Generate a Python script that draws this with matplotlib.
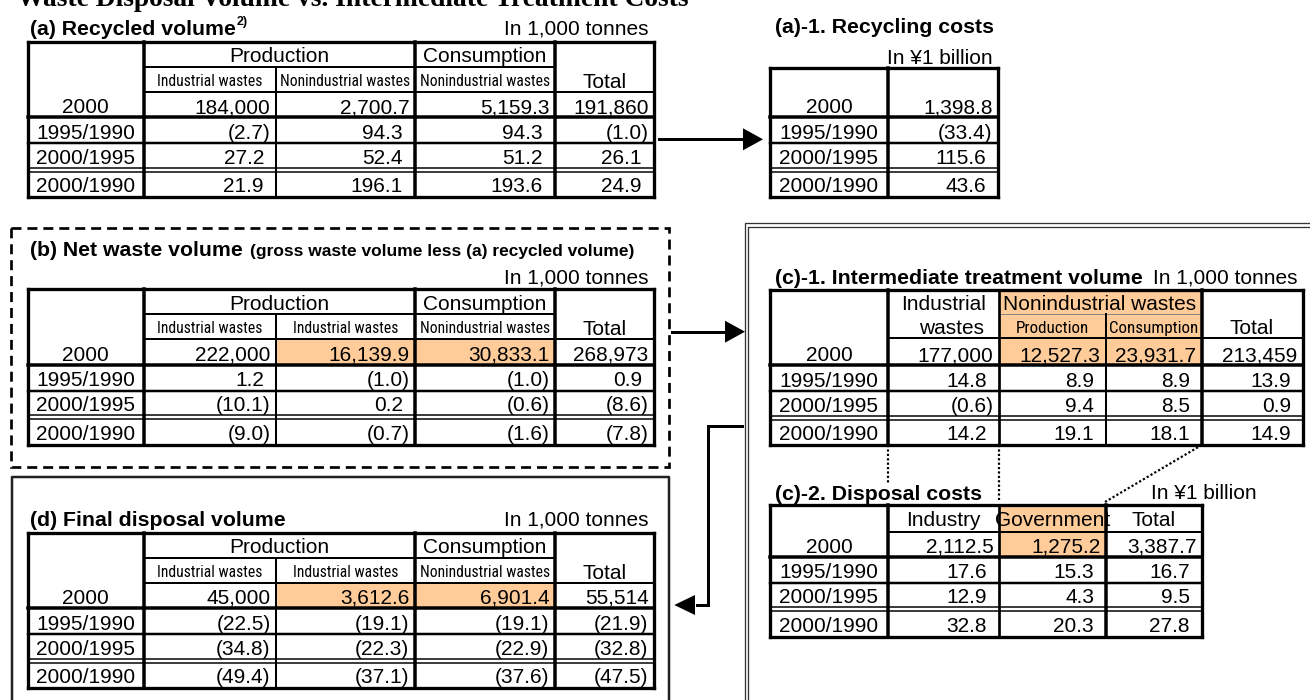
import matplotlib
matplotlib.use("Agg")
import matplotlib.pyplot as plt
from matplotlib.patches import Rectangle, Polygon
from matplotlib import font_manager
from matplotlib.font_manager import FontProperties

# ---------------- data ----------------
row_labels = ["2000", "1995/1990", "2000/1995", "2000/1990"]
groups = ["Production", "Consumption"]

recycled_subs = ["Industrial wastes", "Nonindustrial wastes", "Nonindustrial wastes"]
recycled_2000 = [184000, 2700.7, 5159.3, 191860]
recycled_ratios = [[-2.7, 94.3, 94.3, -1.0],
                   [27.2, 52.4, 51.2, 26.1],
                   [21.9, 196.1, 193.6, 24.9]]

recycling_cost_2000 = [1398.8]
recycling_cost_ratios = [[-33.4], [115.6], [43.6]]

net_subs = ["Industrial wastes", "Industrial wastes", "Nonindustrial wastes"]
net_2000 = [222000, 16139.9, 30833.1, 268973]
net_ratios = [[1.2, -1.0, -1.0, 0.9],
              [-10.1, 0.2, -0.6, -8.6],
              [-9.0, -0.7, -1.6, -7.8]]

treat_heads = ["Industrial", "wastes", "Nonindustrial wastes", "Production", "Consumption", "Total"]
treat_2000 = [177000, 12527.3, 23931.7, 213459]
treat_ratios = [[14.8, 8.9, 8.9, 13.9],
                [-0.6, 9.4, 8.5, 0.9],
                [14.2, 19.1, 18.1, 14.9]]

cost_heads = ["Industry", "Government", "Total"]
cost_2000 = [2112.5, 1275.2, 3387.7]
cost_ratios = [[17.6, 15.3, 16.7],
               [12.9, 4.3, 9.5],
               [32.8, 20.3, 27.8]]

final_subs = ["Industrial wastes", "Industrial wastes", "Nonindustrial wastes"]
final_2000 = [45000, 3612.6, 6901.4, 55514]
final_ratios = [[-22.5, -19.1, -19.1, -21.9],
                [-34.8, -22.3, -22.9, -32.8],
                [-49.4, -37.1, -37.6, -47.5]]

# ---------------- setup ----------------
fig = plt.figure(figsize=(13.1, 7), dpi=100)
ax = fig.add_axes([0, 0, 1, 1])
ax.set_xlim(0, 1310)
ax.set_ylim(700, 0)
ax.axis("off")
renderer = fig.canvas.get_renderer()

PT = 72 / 100  # points per pixel
SANS = "Liberation Sans"
TITLE = 15.3
ORANGE = "#FFCC99"
VOL_COLS = [27.5, 144, 276, 415, 555, 654]


def pick_narrow():
    # look for an installed narrow / condensed sans (like Arial Narrow in the original)
    order = ["Liberation Sans Narrow", "Arial Narrow", "Roboto Condensed", "Noto Sans",
             "Open Sans", "Roboto", "DejaVu Sans"]
    best, best_rank = None, 99
    for f in font_manager.fontManager.ttflist:
        st = str(f.stretch).lower()
        nm = f.name
        if f.style != "normal" or str(f.weight).lower() not in ("400", "normal", "regular", "book"):
            continue
        if "extra" in st or "ultra" in st or "Extra" in nm or "Ultra" in nm:
            continue
        if not ("Narrow" in nm or "Condensed" in nm or "condensed" in st):
            continue
        rank = next((i for i, o in enumerate(order) if nm.startswith(o)), len(order))
        if rank < best_rank:
            best, best_rank = f.fname, rank
    return best


narrow_file = pick_narrow()


def narrow_fp(size):
    if narrow_file:
        return FontProperties(fname=narrow_file, size=size)
    return FontProperties(family=SANS, size=size)


def fit_size(s, target_px, start=12):
    t = ax.text(0, 0, s, fontproperties=narrow_fp(start))
    w = t.get_window_extent(renderer).width
    t.remove()
    return start * target_px / w


SUB_SIZE = min(fit_size("Nonindustrial wastes", 130), 13)
C1_SUB_SIZE = min(fit_size("Production", 73), 14)


def fmt_level(v):
    return f"{v:,}" if isinstance(v, int) else f"{v:,.1f}"


def fmt_ratio(v):
    return f"({abs(v):.1f})" if v < 0 else f"{v:.1f}"


def line(x0, y0, x1, y1, w=2.0, color="black", **kw):
    ax.plot([x0, x1], [y0, y1], color=color, lw=w * PT, solid_capstyle="projecting", **kw)


def txt(x, y, s, size=15, ha="center", weight="normal", family=SANS, clip=None, narrow=False):
    base = y + 0.36 * size / PT  # put the middle of the caps on y
    if narrow:
        t = ax.text(x, base, s, ha=ha, va="baseline", fontproperties=narrow_fp(size))
    else:
        t = ax.text(x, base, s, ha=ha, va="baseline", fontsize=size,
                    fontweight=weight, family=family)
    if clip is not None:
        r = Rectangle((clip[0], clip[1]), clip[2] - clip[0], clip[3] - clip[1],
                      transform=ax.transData)
        t.set_clip_path(r)
    return t


def fill(x0, y0, x1, y1):
    ax.add_patch(Rectangle((x0, y0), x1 - x0, y1 - y0, facecolor=ORANGE,
                           edgecolor="none", zorder=0))


def frame(x0, y0, x1, y1, w=3.3):
    line(x0, y0, x1, y0, w)
    line(x0, y1, x1, y1, w)
    line(x0, y0, x0, y1, w)
    line(x1, y0, x1, y1, w)


def level_row(cols, yb, values):
    txt((cols[0] + cols[1]) / 2, yb - 11.5, row_labels[0])
    for j, v in enumerate(values):
        txt(cols[j + 2] - 5.5, yb - 11.5, fmt_level(v), ha="right")


def body(cols, yb, ratios, widths):
    L, R = cols[0], cols[-1]
    r1, d1, d2, bot = yb + 26, yb + 50.7, yb + 54.5, yb + 80
    line(L, yb, R, yb, 3.5)
    line(L, r1, R, r1, 2.5)
    line(L, d1, R, d1, 1.5)
    line(L, d2, R, d2, 1.5)
    for x, w in zip(cols[1:-1], widths):
        line(x, yb, x, bot, w)
    for k, (yc, row) in enumerate(zip([yb + 14.2, yb + 39.2, yb + 67.5], ratios)):
        txt((cols[0] + cols[1]) / 2, yc, row_labels[k + 1])
        for j, v in enumerate(row):
            right = cols[j + 2] - (5.5 if v < 0 else 12)
            txt(right, yc, fmt_ratio(v), ha="right")
    return bot


def volume_table(T, subs, levels, ratios, orange=()):
    cols = VOL_COLS
    L, R = cols[0], cols[-1]
    h1, h2, yb = T + 25, T + 50, T + 75.3
    for j in orange:
        fill(cols[j + 1], h2, cols[j + 2], yb)
    txt((cols[1] + cols[3]) / 2, T + 13, groups[0])
    txt((cols[3] + cols[4]) / 2, T + 13, groups[1])
    for j, s in enumerate(subs):
        txt((cols[j + 1] + cols[j + 2]) / 2, T + 38.5, s, size=SUB_SIZE, narrow=True)
    txt((cols[4] + cols[5]) / 2, T + 38.5, "Total")
    level_row(cols, yb, levels)
    line(cols[1], h1, cols[4], h1, 2)
    line(cols[1], h2, R, h2, 2)
    line(cols[2], h1, cols[2], yb, 2)
    for x in (cols[1], cols[3], cols[4]):
        line(x, T, x, yb, 3.5)
    bot = body(cols, yb, ratios, [3.5, 2, 3.5, 3.5])
    frame(L, T, R, bot)


def head(tip_x, y, base_x, half):
    ax.add_patch(Polygon([(tip_x, y), (base_x, y - half), (base_x, y + half)],
                         closed=True, facecolor="black", edgecolor="none"))


# ---------------- main title (cut at the top edge) ----------------
ax.text(17, 5.5, "Waste Disposal Volume vs. Intermediate Treatment Costs",
        family="Liberation Serif", fontweight="bold", fontsize=19.8, va="baseline")

# ---------------- (a) recycled volume ----------------
txt(30, 27.5, "(a) Recycled volume", size=TITLE, ha="left", weight="bold")
txt(237, 20, "2)", size=9, ha="left", weight="bold")
txt(648, 26.7, "In 1,000 tonnes", ha="right")
volume_table(41.7, recycled_subs, recycled_2000, recycled_ratios)

# ---------------- (a)-1 recycling costs ----------------
txt(775, 25, "(a)-1. Recycling costs", size=TITLE, ha="left", weight="bold")
txt(993, 56, "In \u00a51 billion", ha="right")
a1_cols = [770, 888, 998]
a1_top, a1_yb = 68.3, 117.3
level_row(a1_cols, a1_yb, recycling_cost_2000)
line(888, a1_top, 888, a1_yb, 3.5)
a1_bot = body(a1_cols, a1_yb, recycling_cost_ratios, [3.5])
frame(a1_cols[0], a1_top, a1_cols[-1], a1_bot)

line(659, 139.3, 745, 139.3, 3)
head(763, 139.3, 743, 11)

# ---------------- (b) net waste volume ----------------
ax.add_patch(Rectangle((11, 228.3), 658.3, 238.4, fill=False, lw=2.7 * PT,
                       linestyle=(0, (3.7, 2.2)), edgecolor="black"))
txt(30, 248, "(b) Net waste volume", size=TITLE, ha="left", weight="bold")
ax.text(250, 248 + 0.36 * TITLE / PT, "(gross waste volume less (a) recycled volume)",
        fontsize=12.5, fontweight="bold", family=SANS, va="baseline")
txt(648, 276, "In 1,000 tonnes", ha="right")
volume_table(289.3, net_subs, net_2000, net_ratios, orange=(1, 2))

line(672, 331.7, 727, 331.7, 3)
head(745, 331.7, 725, 11)

# ---------------- (c) double frame ----------------
ax.plot([745, 745, 1310], [700, 222.7, 222.7], color="#333333", lw=1.3 * PT)
ax.plot([748.3, 748.3, 1310], [700, 226.7, 226.7], color="#333333", lw=1.3 * PT)

# (c)-1 intermediate treatment volume
txt(775, 276, "(c)-1. Intermediate treatment volume", size=TITLE, ha="left", weight="bold")
txt(1297.7, 276, "In 1,000 tonnes", ha="right")
c1_cols = [770, 888, 999, 1106, 1201.7, 1303]
c1_top = 290
c1_h1, c1_h2, c1_yb = c1_top + 23.5, c1_top + 48, c1_top + 75
fill(999, c1_top, 1201.7, c1_yb)
txt(943.5, c1_top + 12, treat_heads[0])
txt(952, c1_top + 37, treat_heads[1])
txt(1100, c1_top + 12, treat_heads[2])
txt(1052.5, c1_top + 37, treat_heads[3], size=C1_SUB_SIZE, narrow=True)
txt(1154, c1_top + 37, treat_heads[4], size=C1_SUB_SIZE, narrow=True,
    clip=(1106, c1_h1, 1201.7, c1_h2))
txt(1252, c1_top + 37, treat_heads[5])
level_row(c1_cols, c1_yb, treat_2000)
line(999, c1_h1, 1201.7, c1_h1, 1, color="#888888")
line(888, c1_h2, 1303, c1_h2, 2)
line(1106, c1_h1, 1106, c1_yb, 2)
line(888, c1_top, 888, c1_yb, 3.5)
line(999, c1_top, 999, c1_yb, 2.7)
line(1201.7, c1_top, 1201.7, c1_yb, 3.5)
c1_bot = body(c1_cols, c1_yb, treat_ratios, [3.5, 2.7, 2, 3.5])
frame(c1_cols[0], c1_top, c1_cols[-1], c1_bot)

# dotted links to (c)-2
dots = dict(color="black", lw=2.2 * PT, linestyle=(0, (1, 1)))
ax.plot([888, 888], [c1_bot, 483], **dots)
ax.plot([998.5, 998.5], [c1_bot, 500], **dots)
ax.plot([1201.7, 1105], [c1_bot, 502], **dots)

# (c)-2 disposal costs
txt(775, 492.7, "(c)-2. Disposal costs", size=TITLE, ha="left", weight="bold")
txt(1256.7, 491.7, "In \u00a51 billion", ha="right")
c2_cols = [770, 888, 999, 1106, 1202]
c2_top = 505
c2_h1, c2_yb = c2_top + 26.7, c2_top + 51.7
fill(999, c2_top, 1106, c2_yb)
for j, s in enumerate(cost_heads):
    clip = (999, c2_top, 1106, c2_h1) if j == 1 else None
    txt((c2_cols[j + 1] + c2_cols[j + 2]) / 2, c2_top + 13.3, s, clip=clip)
level_row(c2_cols, c2_yb, cost_2000)
line(888, c2_h1, 1202, c2_h1, 2)
line(888, c2_top, 888, c2_yb, 3.5)
line(999, c2_top, 999, c2_yb, 2.7)
line(1106, c2_top, 1106, c2_yb, 3.5)
c2_bot = body(c2_cols, c2_yb, cost_ratios, [3.5, 2.7, 3.5])
frame(c2_cols[0], c2_top, c2_cols[-1], c2_bot)

# arrow from (c) back to (d)
ax.plot([741.7, 708.3, 708.3, 697], [426, 426, 605, 605], color="black",
        lw=3 * PT, solid_joinstyle="miter")
head(674.3, 605, 695, 10)

# ---------------- (d) final disposal volume ----------------
ax.plot([11.7, 11.7, 669.3, 669.3], [700, 477.3, 477.3, 700], color="#222222", lw=2.5 * PT)
txt(30, 518.3, "(d) Final disposal volume", size=TITLE, ha="left", weight="bold")
txt(648, 518.3, "In 1,000 tonnes", ha="right")
volume_table(532.7, final_subs, final_2000, final_ratios, orange=(1, 2))

fig.savefig("out.png", dpi=100)
